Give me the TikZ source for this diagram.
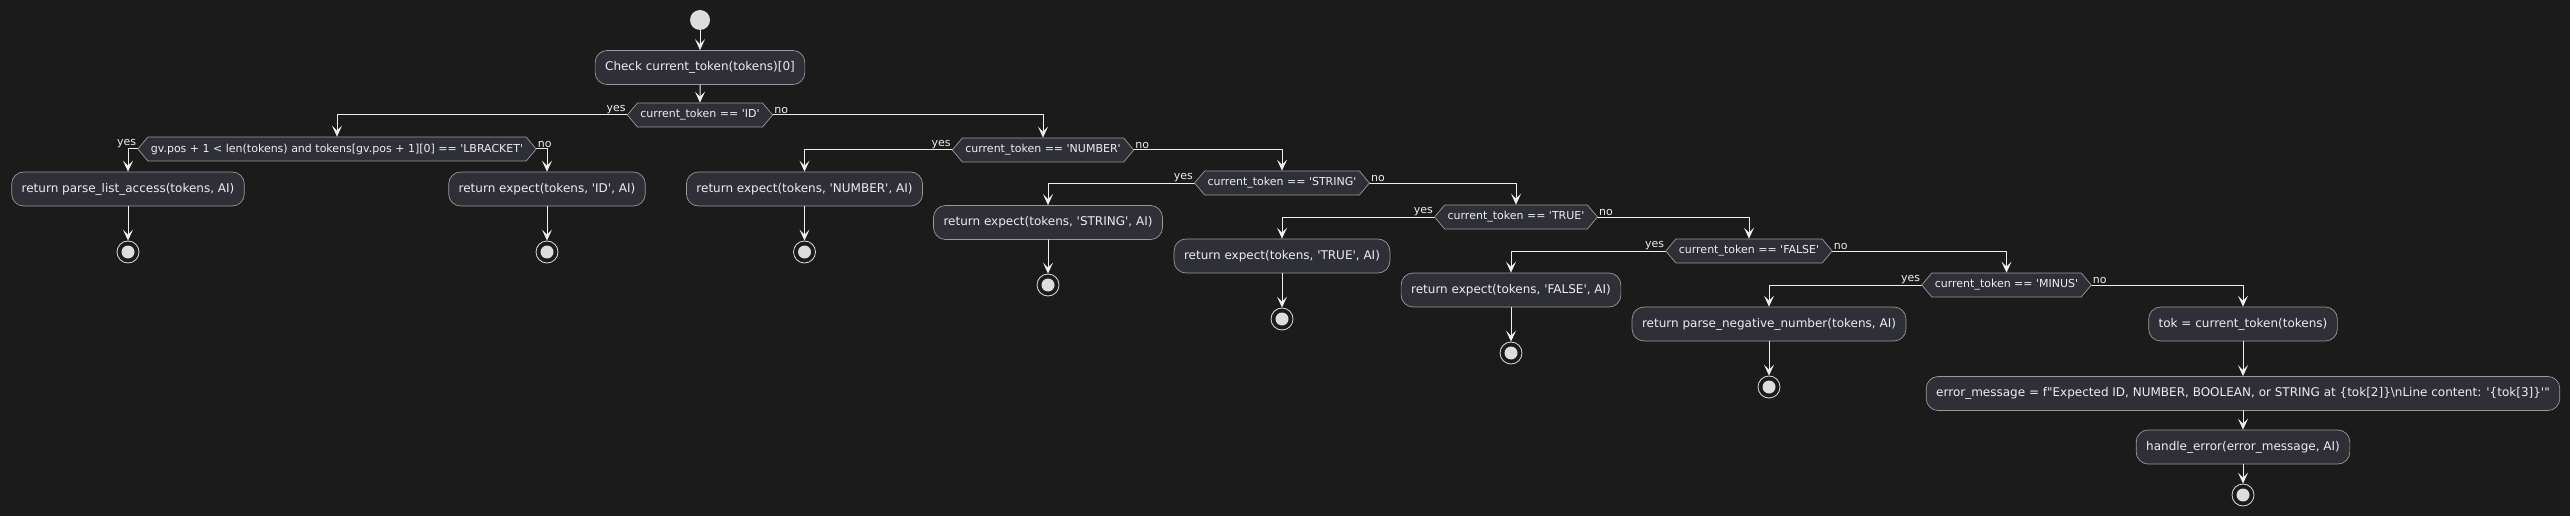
\documentclass[tikz,border=0pt]{standalone}
\usepackage{fontspec}
\newfontfamily\umlfont{DejaVu Sans}
\usetikzlibrary{arrows.meta,shapes.symbols}
\definecolor{bgcol}{HTML}{1B1B1B}
\definecolor{boxfill}{HTML}{2F2F37}
\definecolor{boxline}{HTML}{9A9A9A}
\definecolor{ink}{HTML}{EEEEEE}
\definecolor{dot}{HTML}{DDDDDD}
\tikzset{
  act/.style={draw=boxline,fill=boxfill,rounded corners=12pt,line width=0.7pt,minimum height=34pt,inner xsep=10pt,inner ysep=0pt,text=ink,font=\umlfont\fontsize{12}{14}\selectfont},
  cond/.style={signal,signal to=west and east,signal pointer angle=100,draw=boxline,fill=boxfill,line width=0.7pt,minimum height=24pt,inner xsep=3pt,inner ysep=0pt,text=ink,font=\umlfont\fontsize{11}{13}\selectfont},
  flow/.style={draw=ink,line width=1pt,-{Stealth[length=11pt,width=10pt,inset=5pt]}},
  startdot/.style={circle,fill=dot,minimum size=20pt,inner sep=0pt},
  stopdot/.style={circle,draw=dot,line width=0.8pt,minimum size=22pt,inner sep=0pt,
    path picture={\fill[dot] (path picture bounding box.center) circle (6.5pt);}},
  yeslbl/.style={anchor=south east,inner sep=1pt,text=ink,font=\umlfont\fontsize{11}{13}\selectfont},
  nolbl/.style={anchor=south west,inner sep=1pt,text=ink,font=\umlfont\fontsize{11}{13}\selectfont}
}
\begin{document}
\begin{tikzpicture}[x=1pt,y=-1pt,line cap=round,line join=round]
  \useasboundingbox (0,0) rectangle (2570,516);
  \fill[bgcol] (0,0) rectangle (2570,516);
  % start and first test
  \node[startdot] (start) at (700,20) {};
  \node[act] (check) at (700,67.5) {Check current\_token(tokens)[0]};
  \node[cond] (dID) at (700,115) {current\_token == \textquotesingle ID\textquotesingle};
  % ID branch
  \node[cond] (dGV) at (337,149) {gv.pos + 1 < len(tokens) and tokens[gv.pos + 1][0] == \textquotesingle LBRACKET\textquotesingle};
  \node[act] (bPLA) at (128,189) {return parse\_list\_access(tokens, AI)};
  \node[act] (bEID) at (547,189) {return expect(tokens, \textquotesingle ID\textquotesingle, AI)};
  \node[stopdot] (sPLA) at (128,252) {};
  \node[stopdot] (sEID) at (547,252) {};
  % NUMBER
  \node[cond] (dNUM) at (1043,150) {current\_token == \textquotesingle NUMBER\textquotesingle};
  \node[act] (bENUM) at (804.5,189) {return expect(tokens, \textquotesingle NUMBER\textquotesingle, AI)};
  \node[stopdot] (sENUM) at (804.5,252) {};
  % STRING
  \node[cond] (dSTR) at (1282,183) {current\_token == \textquotesingle STRING\textquotesingle};
  \node[act] (bESTR) at (1048,222.5) {return expect(tokens, \textquotesingle STRING\textquotesingle, AI)};
  \node[stopdot] (sESTR) at (1048,285) {};
  % TRUE
  \node[cond] (dTRUE) at (1516,217) {current\_token == \textquotesingle TRUE\textquotesingle};
  \node[act] (bETRUE) at (1282,256) {return expect(tokens, \textquotesingle TRUE\textquotesingle, AI)};
  \node[stopdot] (sETRUE) at (1282,319) {};
  % FALSE
  \node[cond] (dFALSE) at (1749,251) {current\_token == \textquotesingle FALSE\textquotesingle};
  \node[act] (bEFALSE) at (1511,290) {return expect(tokens, \textquotesingle FALSE\textquotesingle, AI)};
  \node[stopdot] (sEFALSE) at (1511,353) {};
  % MINUS
  \node[cond] (dMINUS) at (2006.5,285) {current\_token == \textquotesingle MINUS\textquotesingle};
  \node[act] (bPNEG) at (1769,324) {return parse\_negative\_number(tokens, AI)};
  \node[stopdot] (sPNEG) at (1769,387) {};
  % error path
  \node[act] (bTOK) at (2243,324) {tok = current\_token(tokens)};
  \node[act] (bERR) at (2243,393.5) {error\_message = f"Expected ID, NUMBER, BOOLEAN, or STRING at \{tok[2]\}\textbackslash nLine content: \textquotesingle\{tok[3]\}\textquotesingle"};
  \node[act] (bHAND) at (2243,447) {handle\_error(error\_message, AI)};
  \node[stopdot] (sEND) at (2243,495) {};
  % connectors
  \draw[flow] (start) -- (check);
  \draw[flow] (check) -- (dID);
  \foreach \d/\y/\n in {dID/dGV/dNUM,dGV/bPLA/bEID,dNUM/bENUM/dSTR,dSTR/bESTR/dTRUE,dTRUE/bETRUE/dFALSE,dFALSE/bEFALSE/dMINUS,dMINUS/bPNEG/bTOK} {
    \draw[flow] (\d.west) -| (\y.north);
    \draw[flow] (\d.east) -| (\n.north);
    \node[yeslbl] (\d-yes) at (\d.west) {yes};
    \node[nolbl] (\d-no) at (\d.east) {no};
  }
  \foreach \a/\b in {bPLA/sPLA,bEID/sEID,bENUM/sENUM,bESTR/sESTR,bETRUE/sETRUE,bEFALSE/sEFALSE,bPNEG/sPNEG,bTOK/bERR,bERR/bHAND,bHAND/sEND} {
    \draw[flow] (\a) -- (\b);
  }
\end{tikzpicture}
\end{document}
